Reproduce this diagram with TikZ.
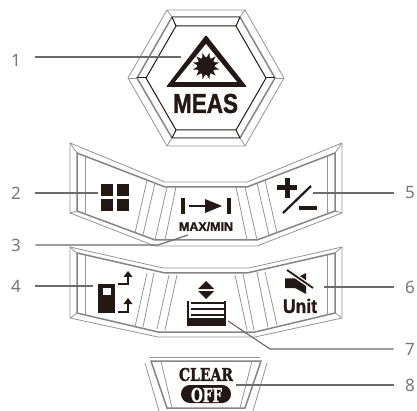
\documentclass[tikz,border=0pt]{standalone}
\usepackage{graphicx}
\usepackage{fontspec}
\usetikzlibrary{calc}
\setmainfont{Liberation Sans}
\newfontfamily\lblfont{Noto Sans}
\newfontfamily\slabfont[FakeBold=1.5]{DejaVu Serif}
\newfontfamily\heavyfont[FakeBold=1.5]{Liberation Sans}
\definecolor{ink}{HTML}{231815}
\definecolor{lblc}{HTML}{777777}
\newcommand{\fit}[3]{\resizebox{#1pt}{#2pt}{#3}}
\tikzset{
  thinline/.style={draw=black!42,line width=0.8pt,line join=miter},
  thickline/.style={draw=black!48,line width=1.5pt,line join=miter},
  hexblack/.style={draw=ink,line width=1pt,line join=miter},
  leader/.style={draw=black!58,line width=1.2pt},
  lbl/.style={inner sep=0pt,font=\lblfont\fontsize{17}{17}\selectfont,text=lblc},
  lblL/.style={lbl,text width=24pt,anchor=west,align=left},
  lblR/.style={lbl,text width=21pt,anchor=east,align=right},
  word/.style={inner sep=0pt,text=ink,font=\heavyfont\bfseries},
  icon/.style={fill=ink,draw=none}
}
\begin{document}
\begin{tikzpicture}[x=1pt,y=-1pt]
\useasboundingbox (0,0) rectangle (417,411);
\fill[white] (0,0) rectangle (417,411);
% --- hexagon
\draw[thinline] (167,10)--(245,10)--(284,78)--(245,146)--(167,146)--(128,78)--cycle;
\draw[thickline] (172,17)--(240,17)--(275,78)--(240,138)--(172,138)--(137,78)--cycle;
\draw[hexblack] (176,26)--(236,26)--(266,78)--(236,130)--(176,130)--(146,78)--cycle;
\foreach \a/\b in {167/172,245/240}{
  \draw[thinline] (\a,10)--(\b,17);
  \draw[thinline] (\a,146)--(\b,138);
}
\draw[thinline] (128,78)--(137,78);
\draw[thinline] (284,78)--(275,78);
\draw[hexblack] (172,17)--(176,26);
\draw[hexblack] (240,17)--(236,26);
\draw[hexblack] (172,138)--(176,130);
\draw[hexblack] (240,138)--(236,130);
\draw[hexblack] (137,78)--(146,78);
\draw[hexblack] (275,78)--(266,78);
% warning triangle
\fill[ink,rounded corners=1pt] (206,35)--(247,87)--(166,87)--cycle;
\fill[white] (206,44)--(237,82)--(175,82)--cycle;
\fill[ink] (206,66) circle (9);
\foreach \t in {15,45,...,345}{
  \fill[ink] ($(206,66)+(\t:13.5)$)--($(206,66)+(\t+12:8.5)$)--($(206,66)+(\t-12:8.5)$)--cycle;
}
\node[word] (meas) at (205.5,103.5) {\fit{65}{19}{MEAS}};
% --- row 1
\draw[thinline] (70,143)--(165,182)--(247,182)--(342,143)--(342,213)--(257,246)--(155,246)--(70,213)--cycle;
\draw[thickline] (77,153)--(165,187)--(247,187)--(335,153)--(335,211)--(257,240)--(155,240)--(77,211)--cycle;
\draw[thinline] (85,156)--(85,214);
\draw[thinline] (327,156)--(327,214);
\draw[thinline] (70,143)--(77,153) (342,143)--(335,153) (70,213)--(77,211) (342,213)--(335,211);
\foreach \a/\b/\c/\d in {147/180/135/233,155/183/143/235,167/187/155/240,176/187/165/240,
                         265/180/277/233,257/183/269/235,245/187/257/240,236/187/247/240}{
  \draw[thinline] (\a,\b)--(\c,\d);
}
% --- row 2
\draw[thinline] (70,247)--(163,268)--(249,268)--(342,247)--(342,318)--(255,337)--(158,337)--(70,318)--cycle;
\draw[thickline] (77,253)--(165,273)--(247,273)--(335,253)--(335,313)--(255,332)--(158,332)--(77,313)--cycle;
\draw[thinline] (85,255)--(85,315);
\draw[thinline] (327,255)--(327,315);
\draw[thinline] (70,247)--(77,253) (342,247)--(335,253) (70,318)--(77,313) (342,318)--(335,313);
\foreach \a/\b/\c/\d in {147/273/135/327,154/273/143/327,169/275/157/329,177/275/165/330,
                         265/272/277/325,257/272/268/327,243/274/254/330,235/275/247/330}{
  \draw[thinline] (\a,\b)--(\c,\d);
}
% --- clear button
\draw[thinline] (150,357)--(260,357);
\draw[thickline] (151,361)--(261,361)--(245,408)--(167,408)--cycle;
\draw[thinline] (145,363)--(159,411);
\draw[thinline] (267,363)--(253,411);
\draw[thinline] (161,361)--(172,408);
\draw[thinline] (252,361)--(240,408);
% --- icons
\foreach \x in {101,117}\foreach \y in {184,199}{
  \fill[icon] (\x,\y) rectangle ++(12,12);
}
% range
\fill[icon] (181,198) rectangle (185,214);
\fill[icon] (227,198) rectangle (231,214);
\fill[icon] (189,205) rectangle (206,207.2);
\fill[icon] (205,199)--(222,206)--(205,213)--cycle;
\node[word] (maxmin) at (206,226.5) {\fit{54}{9}{MAX/MIN}};
% plus minus
\fill[icon] (277,185.5) rectangle (297,190.5);
\fill[icon] (284.5,178) rectangle (289.5,198);
\draw[draw=ink,line width=2.2pt] (311,186)--(283,213);
\fill[icon] (299,206) rectangle (317,210);
% range memory
\fill[icon] (98,284) rectangle (115,313);
\fill[white] (103,288) rectangle (111,295);
\draw[draw=ink,line width=2.3pt] (118,284)--(128,284)--(128,275);
\fill[icon] (128,271)--(132.5,277)--(123.5,277)--cycle;
\draw[draw=ink,line width=2.3pt] (118,312)--(128,312)--(128,303);
\fill[icon] (128,298)--(132.5,304)--(123.5,304)--cycle;
% memory
\fill[icon] (206,281)--(214,289)--(198,289)--cycle;
\fill[icon] (206,299)--(214,291)--(198,291)--cycle;
\fill[icon] (187,301) rectangle (189,326);
\fill[icon] (224,301) rectangle (226,326);
\fill[icon] (187,318) rectangle (226,326);
\foreach \y in {302,308,314}{
  \fill[icon] (191,\y) rectangle (224,\y+2);
}
% mute
\fill[icon] (285,278.5)--(295,278.5)--(306,273)--(306,294)--(295,288)--(285,288)--cycle;
\draw[draw=white,line width=4.5pt] (285,268.6)--(315,289.4);
\draw[draw=ink,line width=1.8pt] (287,270)--(313,288);
\node[word] (unit) at (300,306) {\fit{34}{14}{Unit}};
% clear text
\node[word] (clear) at (206,374.5) {\fit{54}{13}{\slabfont\bfseries CLEAR}};
\fill[icon,rounded corners=8.9pt] (181,385) rectangle (231,403);
\node[word,text=white] (off) at (206.5,395) {\fit{31}{14}{\slabfont\bfseries OFF}};
% --- labels
\node[lblL] (l1) at (11,60) {1};
\node[lblL] (l2) at (11,193) {2};
\node[lblL] (l3) at (11,245) {3};
\node[lblL] (l4) at (11,286) {4};
\node[lblR] (l5) at (415,193) {5};
\node[lblR] (l6) at (415,287) {6};
\node[lblR] (l7) at (415,349) {7};
\node[lblR] (l8) at (415,385) {8};
\coordinate (t1) at (181,57);
\coordinate (t2) at (98,193);
\coordinate (k3) at (158,245);
\coordinate (t3) at (188,235);
\coordinate (t4) at (93,286);
\coordinate (t5) at (313,193);
\coordinate (t6) at (324,287);
\coordinate (k7) at (270,349);
\coordinate (t7) at (228,321);
\coordinate (t8) at (236,385);
% --- leaders
\draw[leader] ($(l1.east)+(0,-3)$)--(t1);
\draw[leader] (l2.east)--(t2);
\draw[leader] (l3.east)--(k3)--(t3);
\draw[leader] (l4.east)--(t4);
\draw[leader] (l5.west)--(t5);
\draw[leader] (l6.west)--(t6);
\draw[leader] (l7.west)--(k7)--(t7);
\draw[leader] (l8.west)--(t8);
\end{tikzpicture}
\end{document}
